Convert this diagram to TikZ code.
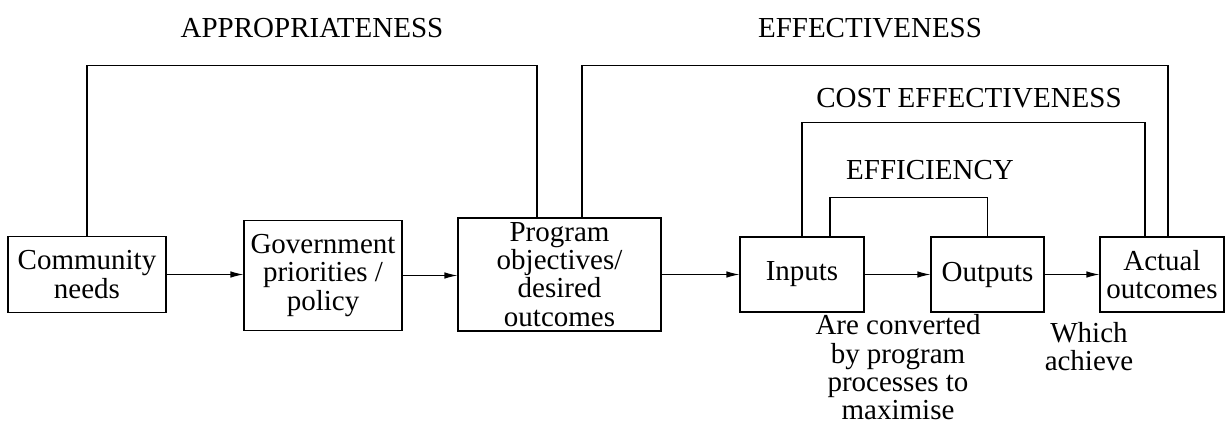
\documentclass[tikz,border=0pt]{standalone}
\usepackage{fontspec}
\setmainfont{Liberation Serif}
\usetikzlibrary{arrows.meta, positioning}

\begin{document}
\begin{tikzpicture}[
  box/.style={draw, line width=0.6pt, font=\fontsize{16.5}{16}\selectfont, align=center,
              inner sep=2pt},
  arr/.style={-{Latex[length=2.6mm, width=1.3mm]}, line width=0.6pt},
  loop/.style={line width=0.6pt},
  lbl/.style={font=\fontsize{16.5}{16}\selectfont, align=center, inner sep=0pt},
]
\useasboundingbox (0,0) rectangle (24.54,8.54);
% Chain of boxes
\node[box, minimum width=3.16cm, minimum height=1.52cm] at (1.74,3.05)  (comm) {Community\\needs};
\node[box, minimum width=3.16cm, minimum height=2.2cm]  at (6.46,3.03)  (gov)  {Government\\priorities /\\policy};
\node[box, minimum width=4.06cm, minimum height=2.26cm] at (11.19,3.05) (prog) {Program\\objectives/\\desired\\outcomes};
\node[box, minimum width=2.48cm, minimum height=1.5cm]  at (16.04,3.05) (inp)  {Inputs};
\node[box, minimum width=2.26cm, minimum height=1.5cm]  at (19.75,3.05) (outp) {Outputs};
\node[box, minimum width=2.48cm, minimum height=1.5cm]  at (23.24,3.05) (act)  {Actual\\outcomes};
% Arrows
\draw[arr] (comm.east) -- (comm.east -| gov.west);
\draw[arr] (gov.east)  -- (gov.east -| prog.west);
\draw[arr] (prog) -- (inp);
\draw[arr] (inp)  -- (outp);
\draw[arr] (outp) -- (act);
% Measures
\draw[loop] (comm.north) -- ++(0,3.41) -| ([xshift=-0.45cm]prog.north);
\draw[loop] ([xshift=0.45cm]prog.north) -- ++(0,3.04) -| ([xshift=0.12cm]act.north);
\draw[loop] (inp.north) -- ++(0,2.28) -| ([xshift=-0.34cm]act.north);
\draw[loop] ([xshift=0.56cm]inp.north) -- ++(0,0.78) -| (outp.north);
\node[lbl] at (6.24,7.98)  (appr) {APPROPRIATENESS};
\node[lbl] at (17.4,7.98)  (eff)  {EFFECTIVENESS};
\node[lbl] at (19.38,6.58) (ceff) {COST EFFECTIVENESS};
\node[lbl] at (18.6,5.14)  (effc) {EFFICIENCY};
% Notes below
\node[lbl, anchor=north] at (17.96,2.25) (conv)  {Are converted\\by program\\processes to\\maximise};
\node[lbl, anchor=north] at (21.78,2.1)  (which) {Which\\achieve};
\end{tikzpicture}
\end{document}
